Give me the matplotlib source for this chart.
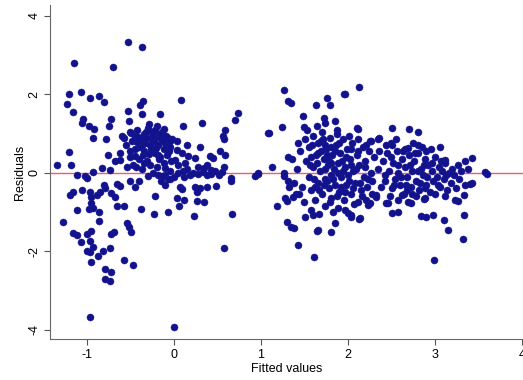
import matplotlib
matplotlib.use("Agg")
import matplotlib.pyplot as plt

plt.rcParams['font.family'] = ['Liberation Sans', 'DejaVu Sans']

# (fitted value, residual) pairs, grouped by region
left_sparse = [
    (-1.34, 0.19), (-1.21, 0.52), (-1.18, 0.21), (-1.21, 2.00), (-1.07, 2.06), (-1.23, 1.75),
    (-0.97, 1.92), (-0.86, 1.96), (-0.81, 1.80), (-1.16, 1.55), (-1.04, 1.38), (-1.06, 1.27),
    (-0.98, 1.19), (-0.92, 1.12), (-0.72, 1.38), (-0.75, 1.20), (-0.93, 0.89), (-0.78, 0.86),
    (-0.53, 1.57), (-0.39, 1.72), (-0.37, 1.50), (-0.52, 1.32), (-0.76, 0.46), (-0.83, 0.12),
    (-0.93, 0.03), (-1.02, -0.09), (-1.11, -0.05), (-0.62, 0.33), (-0.68, 0.29), (-0.58, 0.89),
    (-0.49, 1.02), (-0.45, 0.85), (-0.51, 0.55), (-0.47, 0.21), (-0.54, 0.15), (-0.74, 0.08),
    (-0.45, 0.42), (-0.36, 1.83), (-0.16, 1.49), (0.08, 1.85),
]
outliers = [
    (-1.15, 2.81), (-0.70, 2.70), (-0.53, 3.33), (-0.37, 3.21), (-0.97, -3.68), (0.00, -3.94),
]
left_low = [
    (-1.00, -0.14), (-0.81, -0.31), (-0.79, -0.39), (-0.66, -0.28), (-0.62, -0.33), (-0.51, -0.22),
    (-0.40, -0.22), (-0.45, -0.37), (-1.20, -0.56), (-1.16, -0.50), (-1.06, -0.45), (-0.97, -0.48),
    (-0.95, -0.61), (-0.85, -0.48), (-0.89, -0.56), (-0.95, -0.78), (-0.72, -0.52), (-0.68, -0.61),
    (-1.11, -0.95), (-0.98, -0.93), (-0.93, -0.91), (-0.86, -0.99), (-0.66, -0.86), (-0.58, -0.85),
    (-0.38, -0.93), (-0.86, -1.22), (-1.28, -1.26), (-0.54, -1.29), (-0.52, -1.39), (-0.49, -1.52),
    (-1.16, -1.53), (-1.12, -1.59), (-1.00, -1.55), (-0.95, -1.49), (-0.72, -1.56), (-0.69, -1.52),
    (-1.07, -1.76), (-0.96, -1.74), (-0.93, -1.89), (-1.00, -1.99), (-0.96, -2.02), (-0.87, -2.13),
    (-0.82, -1.99), (-0.74, -1.93), (-0.95, -2.27), (-0.58, -2.23), (-0.47, -2.36), (-0.79, -2.46),
    (-0.72, -2.53), (-0.79, -2.70), (-0.74, -2.77),
]
left_dense = [
    (-0.50, 1.05), (-0.45, 0.95), (-0.42, 1.10), (-0.38, 0.85), (-0.35, 1.00), (-0.33, 0.75),
    (-0.30, 1.15), (-0.28, 0.90), (-0.26, 0.60), (-0.25, 1.05), (-0.23, 0.80), (-0.22, 0.50),
    (-0.20, 1.20), (-0.20, 0.95), (-0.18, 0.70), (-0.17, 0.35), (-0.15, 0.85), (-0.14, 1.05),
    (-0.12, 0.60), (-0.10, 0.75), (-0.08, 0.45), (-0.07, 0.90), (-0.05, 0.65), (-0.03, 0.30),
    (-0.40, 0.65), (-0.36, 0.45), (-0.31, 0.30), (-0.27, 0.20), (-0.45, 0.60), (-0.48, 0.80),
    (-0.40, 0.35), (-0.34, 0.55), (-0.29, 1.25), (-0.19, 0.15), (-0.12, 0.25), (-0.24, 0.00),
    (-0.37, 0.10), (-0.44, 0.15), (-0.50, 0.40), (-0.55, 0.70), (-0.60, 0.95), (-0.62, 0.50),
    (-0.10, -0.05), (-0.05, 0.05), (0.00, -0.10), (0.05, 0.00), (0.10, 0.05), (0.12, -0.10),
    (-0.15, -0.20), (-0.05, -0.15), (0.18, -0.05), (0.22, 0.00),
    (-0.41, 0.92), (-0.37, 0.70), (-0.32, 0.88), (-0.27, 0.72), (-0.24, 0.95), (-0.21, 0.62),
    (-0.16, 0.98), (-0.13, 0.80), (-0.09, 0.95), (-0.06, 0.55), (-0.32, 1.05), (-0.22, 1.10),
    (-0.43, 0.78), (-0.29, 0.48), (-0.18, 0.45), (-0.11, 1.12), (-0.02, 0.85), (-0.35, 0.25),
]
center = [
    (0.10, 1.19), (0.32, 1.26), (0.74, 1.53), (0.70, 1.34), (0.59, 1.10), (0.56, 0.93),
    (0.57, 0.87), (0.30, 0.67), (0.53, 0.55), (0.59, 0.46), (0.41, 0.44), (0.45, 0.38),
    (0.38, 0.21), (0.57, 0.15), (0.43, 0.08), (0.34, 0.12), (0.28, 0.15), (1.08, 1.02),
    (0.97, -0.03), (0.93, -0.07), (0.66, -0.14), (-0.05, 0.80), (0.03, 0.80), (0.15, 0.72),
    (0.03, 0.59), (0.09, 0.51), (0.16, 0.42), (0.24, 0.38), (0.01, 0.33), (0.13, 0.25),
    (0.05, 0.21), (0.15, 0.09), (-0.10, 0.12), (-0.16, 0.40), (-0.14, -0.09), (-0.30, -0.08),
    (-0.18, -0.05), (-0.10, -0.31), (-0.07, -0.15), (-0.22, -0.59), (-0.23, -1.06), (-0.07, -0.99),
    (0.06, -0.86), (0.03, -0.65), (0.11, -0.69), (0.07, -0.35), (0.09, -0.42), (0.23, -1.10),
    (0.24, -0.35), (0.26, -0.48), (0.30, -0.39), (0.38, -0.35), (0.26, -0.72), (0.35, -0.75),
    (0.48, -0.33), (0.66, -0.22), (0.67, -1.06), (0.57, -1.91), (0.28, -0.03), (0.33, 0.03),
    (0.38, -0.06), (0.42, -0.02), (0.47, 0.04), (0.52, -0.05), (0.55, 0.02),
]
mid_sparse = [
    (0.96, 0.00), (1.09, 1.02), (1.13, 0.15), (1.24, 1.16), (1.27, 2.11), (1.31, 1.83),
    (1.34, 1.79), (1.31, 0.39), (1.27, 0.00), (1.48, 1.44), (1.49, 1.16), (1.63, 1.72),
    (1.76, 1.92), (1.95, 2.02), (2.13, 2.20), (1.79, 1.74), (1.72, 1.40), (1.74, 1.27),
    (1.85, 1.32), (1.87, 1.10), (2.11, 1.12), (1.26, -0.09), (1.31, -0.22), (1.18, -0.86),
    (1.28, -0.65), (1.37, -0.61), (1.30, -1.25), (1.34, -1.38), (1.38, -1.42), (1.43, -1.85),
    (1.61, -2.15), (1.66, -1.46), (1.81, -1.50), (1.85, -1.27), (1.51, -1.12), (1.60, -1.08),
    (2.00, -1.03), (2.04, -1.12), (2.14, -1.16), (2.25, 0.80), (2.35, 0.86), (2.32, -0.56),
    (2.25, -0.78), (1.64, -1.49), (1.30, -0.73), (1.32, -0.35), (1.40, -0.55),
]
mid_dense = [
    (1.45, 0.55), (1.50, 0.85), (1.52, 0.30), (1.55, -0.10), (1.55, 0.65), (1.58, -0.45),
    (1.60, 0.95), (1.60, 0.15), (1.62, -0.70), (1.63, 0.45), (1.65, -0.25), (1.66, 0.75),
    (1.68, 0.05), (1.70, -0.55), (1.70, 1.05), (1.72, 0.35), (1.73, -0.85), (1.74, -0.15),
    (1.75, 0.60), (1.77, 0.20), (1.78, -0.40), (1.79, 0.90), (1.80, -0.05), (1.81, -0.65),
    (1.82, 0.45), (1.84, 0.10), (1.85, -0.30), (1.86, 0.70), (1.88, -0.90), (1.88, 0.25),
    (1.90, -0.50), (1.91, 0.50), (1.92, -0.10), (1.94, 0.85), (1.95, -0.70), (1.96, 0.15),
    (1.98, -0.30), (1.99, 0.60), (2.00, -0.05), (2.02, 0.35), (2.03, -0.55), (2.05, 0.75),
    (2.06, 0.05), (2.08, -0.25), (2.10, 0.45), (2.12, -0.75), (2.13, 0.20), (2.15, -0.45),
    (2.17, 0.65), (2.18, -0.10), (2.20, 0.30), (2.22, -0.35), (2.24, 0.55), (2.26, 0.00),
    (2.28, -0.20), (2.30, 0.40), (1.47, -0.35), (1.49, -0.75), (1.53, 1.10), (1.57, -0.95),
    (1.64, 1.20), (1.67, -1.05), (1.71, 0.85), (1.76, -0.20), (1.83, -1.00), (1.87, 1.00),
    (1.93, 0.30), (1.97, -0.95), (2.01, 0.95), (2.07, -0.80), (2.11, 0.85), (2.16, -0.60),
    (2.21, 0.70), (2.27, -0.55), (1.41, 0.10), (1.38, -0.25), (1.42, 0.75), (1.36, 0.35),
    (1.44, -0.55), (1.58, 0.40), (1.69, 0.55), (1.89, 0.00), (2.04, 0.20), (1.78, 0.30),
    (1.62, -0.35),
    (1.56, 0.20), (1.61, -0.15), (1.64, 0.25), (1.67, -0.45), (1.69, 0.80), (1.72, -0.30),
    (1.74, 0.10), (1.76, 0.45), (1.79, -0.75), (1.81, 0.25), (1.83, -0.15), (1.85, 0.55),
    (1.87, -0.60), (1.90, 0.75), (1.92, -0.35), (1.94, 0.05), (1.96, -0.50), (1.98, 0.40),
    (2.01, -0.20), (2.03, 0.60), (2.06, -0.40), (2.09, 0.10), (2.12, 0.55), (2.14, -0.25),
    (2.19, 0.15), (2.23, -0.15), (1.59, 0.70), (1.66, 0.50), (1.73, 0.70), (1.80, 0.65),
]
right_sparse = [
    (2.51, 1.13), (2.70, 1.12), (2.80, 1.03), (2.49, 0.76), (2.69, 0.63), (2.80, 0.72),
    (2.90, 0.55), (3.06, 0.67), (3.11, 0.32), (3.34, 0.29), (3.43, 0.38), (3.57, 0.03),
    (3.60, -0.03), (3.42, -0.26), (3.33, -0.56), (3.23, -0.69), (3.26, -0.72), (3.33, -1.08),
    (3.10, -1.21), (3.15, -1.46), (3.32, -1.69), (2.99, -2.23), (2.98, -1.08), (2.90, -1.12),
    (2.84, -1.10), (2.89, -0.65), (2.87, -0.67), (2.58, -0.99), (2.51, -1.03), (2.46, -0.78),
    (2.69, -0.74), (2.72, -0.78), (2.62, -0.56), (2.03, -1.08), (2.13, -1.19), (2.44, -0.76),
    (2.32, -0.61), (2.21, -0.69), (2.23, -0.82), (3.40, -0.28), (2.10, 1.13), (2.36, 0.89),
    (2.26, 0.80), (2.50, 0.72), (3.09, 0.29), (1.96, 2.02),
]
right_dense = [
    (2.40, 0.30), (2.42, -0.20), (2.45, 0.50), (2.47, 0.05), (2.50, -0.40), (2.52, 0.25),
    (2.54, -0.15), (2.56, 0.55), (2.58, 0.00), (2.60, -0.30), (2.62, 0.35), (2.64, -0.55),
    (2.66, 0.15), (2.68, -0.10), (2.70, 0.45), (2.72, -0.35), (2.74, 0.05), (2.76, 0.30),
    (2.78, -0.20), (2.80, 0.50), (2.82, -0.45), (2.84, 0.10), (2.86, -0.05), (2.88, 0.35),
    (2.90, -0.30), (2.92, 0.20), (2.94, -0.50), (2.96, 0.05), (2.98, -0.20), (3.00, 0.40),
    (3.02, -0.10), (3.04, 0.15), (3.06, -0.35), (3.08, 0.05), (3.10, -0.15), (3.12, 0.25),
    (3.14, -0.45), (3.16, 0.00), (3.18, -0.25), (3.20, 0.10), (3.22, -0.05), (3.24, -0.40),
    (3.26, 0.20), (3.28, -0.15), (3.30, 0.05), (3.35, -0.30), (3.38, 0.10), (2.44, 0.70),
    (2.55, 0.85), (2.65, 0.60), (2.75, 0.75), (2.85, 0.65), (2.95, 0.60), (2.48, -0.60),
    (2.58, -0.70), (2.68, -0.45), (2.78, -0.60), (2.88, -0.40), (3.00, -0.55), (3.12, -0.60),
    (2.35, 0.10), (2.38, -0.35), (2.36, 0.55),
    (2.43, -0.05), (2.49, 0.40), (2.53, -0.30), (2.57, 0.20), (2.61, -0.10), (2.63, 0.55),
    (2.67, -0.30), (2.71, 0.20), (2.73, -0.55), (2.77, 0.50), (2.81, 0.05), (2.83, -0.25),
    (2.87, 0.20), (2.91, -0.10), (2.97, 0.25), (3.03, -0.30), (3.07, 0.30), (3.13, -0.05),
]

x_ticks = [-1, 0, 1, 2, 3, 4]
y_ticks = [-4, -2, 0, 2, 4]
x_label = "Fitted values"
y_label = "Residuals"

groups = [left_sparse, outliers, left_low, left_dense, center,
          mid_sparse, mid_dense, right_sparse, right_dense]
fitted = [p[0] for g in groups for p in g]
resid = [p[1] for g in groups for p in g]

fig = plt.figure(figsize=(5.23, 3.80), dpi=100)
ax = fig.add_axes([50 / 523, 41 / 380, 473 / 523, 334 / 380])

ax.axhline(0, color='#e8606e', lw=1.0, zorder=1)
ax.scatter(fitted, resid, s=26, color='#12128a', edgecolors='#1a1aa0',
           linewidths=0.3, zorder=2)

ax.set_xlim(-1.425, 4.011)
ax.set_ylim(-4.24, 4.28)
ax.set_xticks(x_ticks)
ax.set_yticks(y_ticks)
ax.set_xticklabels([str(t) for t in x_ticks], fontsize=9)
ax.set_yticklabels([str(t) for t in y_ticks], fontsize=9, rotation=90, va='center')
ax.tick_params(direction='out', length=4, width=0.8, color='#555555', pad=3)
ax.set_xlabel(x_label, fontsize=9, labelpad=2)
ax.set_ylabel(y_label, fontsize=9, labelpad=2)

for side in ['top', 'right']:
    ax.spines[side].set_visible(False)
for side in ['left', 'bottom']:
    ax.spines[side].set_color('#666666')
    ax.spines[side].set_linewidth(0.8)

fig.savefig('out.png', dpi=100)
